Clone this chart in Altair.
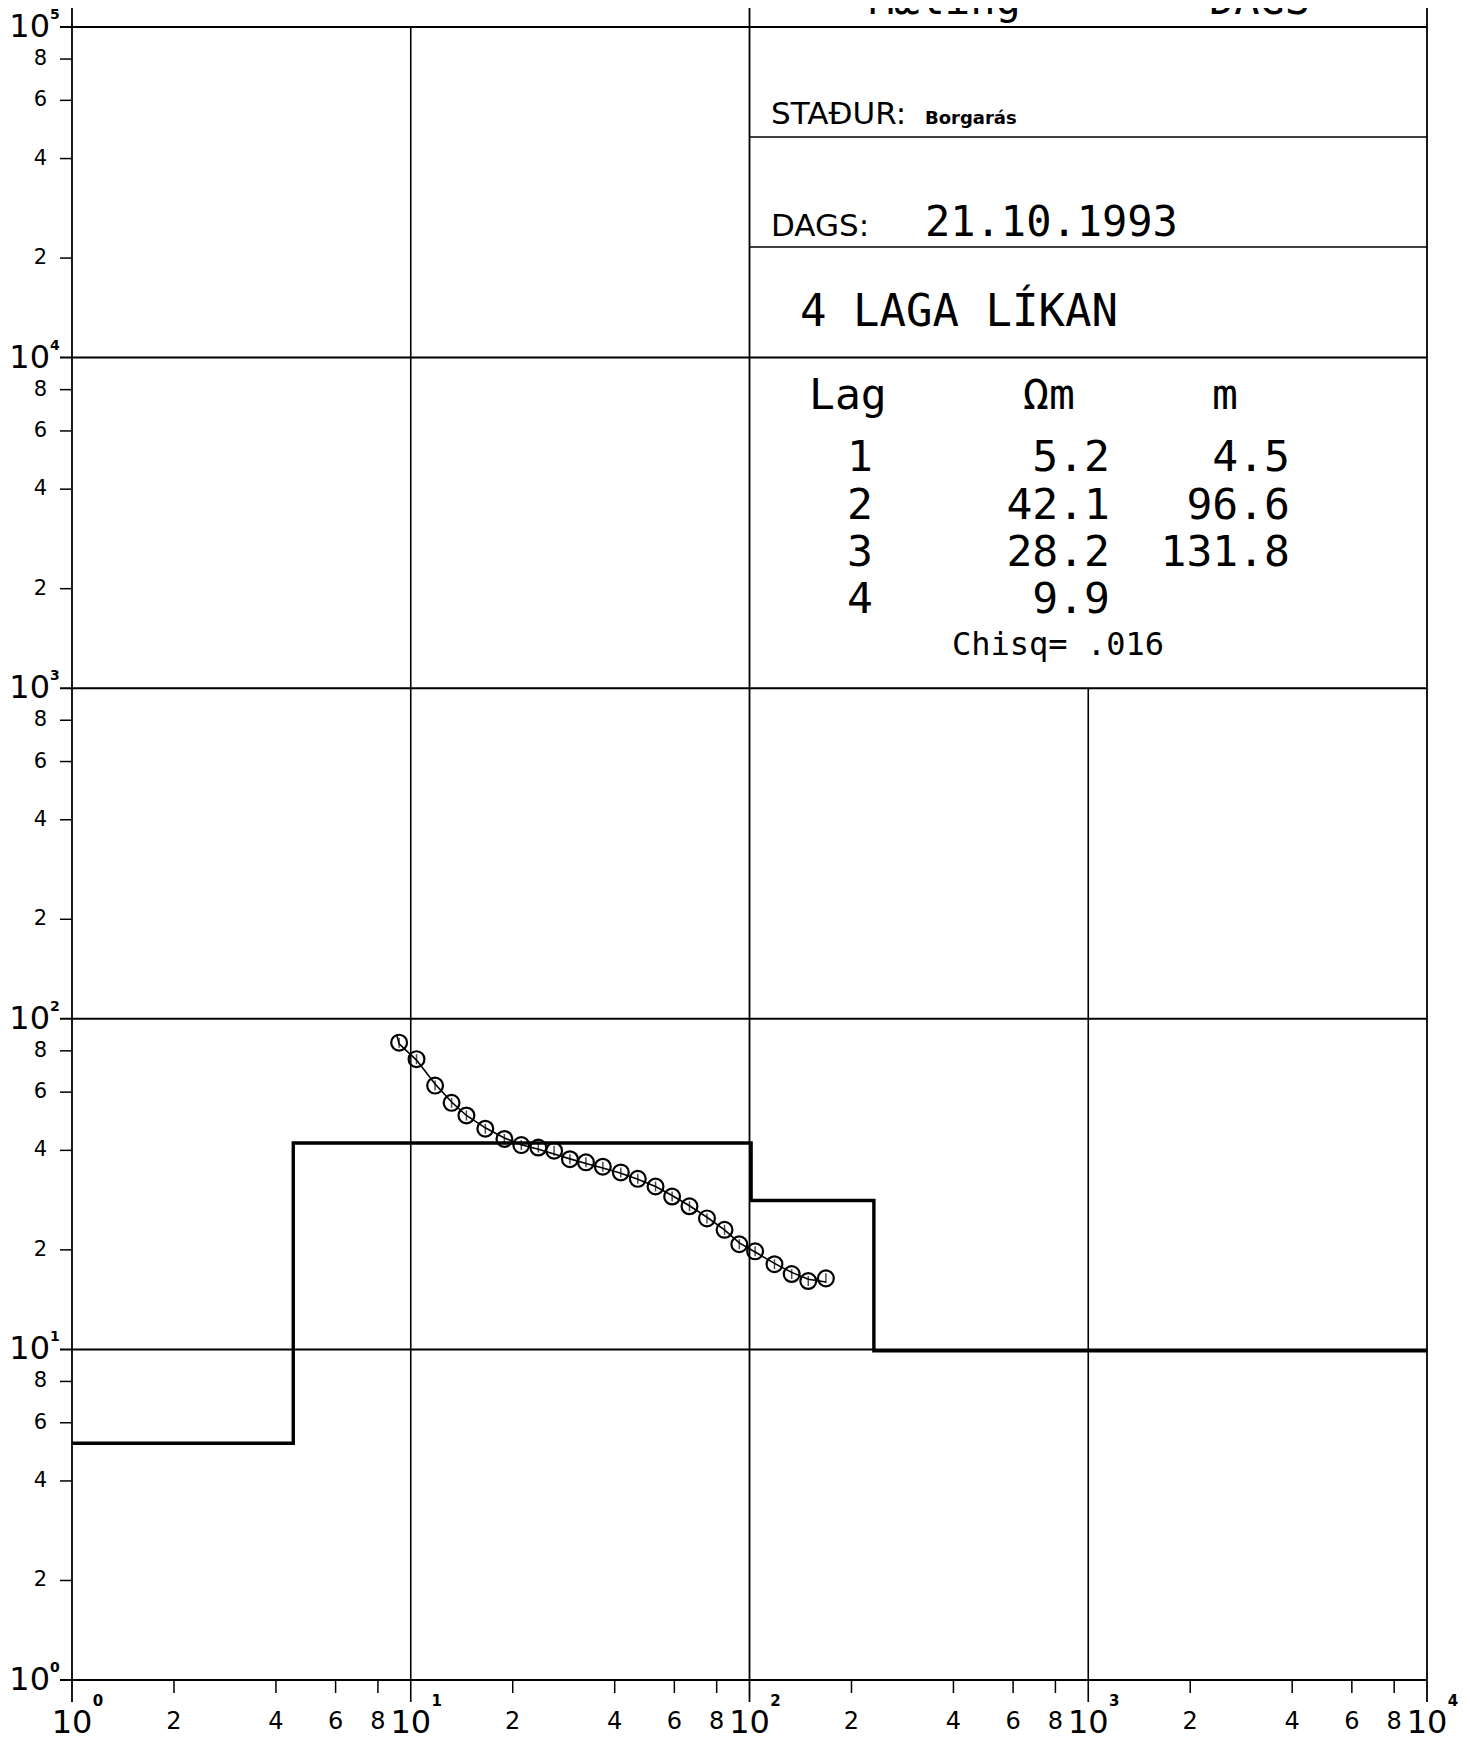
import altair as alt
import pandas as pd

# ---------------- data ----------------
LAG = [1, 2, 3, 4]
RHO = [5.2, 42.1, 28.2, 9.9]          # Ohm-m
THK = [4.5, 96.6, 131.8]              # m (last layer is half-space)
CHISQ = ".016"
STADUR = "Borgarás"
DAGS = "21.10.1993"

MEAS_X = [9.24, 10.4, 11.8, 13.2, 14.6, 16.6, 18.9, 21.2, 23.8, 26.5, 29.5, 32.9, 36.9,
          41.7, 46.8, 52.8, 59.1, 66.5, 74.9, 84.4, 93.3, 103.9, 118.5, 133.2, 149.1, 168.1]
MEAS_Y = [84.7, 75.5, 62.8, 55.7, 51.0, 46.5, 43.3, 41.5, 40.8, 39.9, 37.6, 36.8, 35.7,
          34.3, 32.8, 31.1, 29.0, 27.1, 24.9, 23.0, 20.8, 19.8, 18.1, 16.9, 16.1, 16.4]

FIT_X = [9.08, 9.24, 10.4, 11.8, 13.2, 14.6, 16.6, 18.9, 21.2, 23.8, 26.5, 29.5, 32.9, 36.9,
         41.7, 46.8, 52.8, 59.1, 66.5, 74.9, 84.4, 93.3, 103.9, 118.5, 133.2, 149.1, 168.1]
FIT_Y = [89.7, 84.0, 75.0, 63.5, 56.0, 51.0, 46.8, 43.6, 41.6, 40.3, 39.0, 37.7, 36.5, 35.4,
         34.1, 32.7, 31.1, 29.2, 27.2, 25.1, 23.0, 21.0, 19.7, 18.2, 17.1, 16.3, 16.0]

X_DEC = [1, 10, 100, 1000, 10000]
Y_DEC = [1, 10, 100, 1000, 10000, 100000]
MINOR = [2, 4, 6, 8]

# ---------------- layout ----------------
W, H = 1355, 1653
xs = alt.Scale(type="log", domain=[1, 10000])
ys = alt.Scale(type="log", domain=[1, 100000])
SANS = "DejaVu Sans"
MONO = "DejaVu Sans Mono"
one = pd.DataFrame({"a": [0]})


def X(f="x"):
    return alt.X(f"{f}:Q", scale=xs, axis=None)


def Y(f="y"):
    return alt.Y(f"{f}:Q", scale=ys, axis=None)


def txt(s, x, y, size, font=SANS, align="left", weight="normal"):
    return alt.Chart(one).mark_text(
        font=font, fontSize=size, align=align, baseline="alphabetic",
        fontWeight=weight, color="black"
    ).encode(x=alt.value(x), y=alt.value(y), text=alt.value(s))


layers = []

# horizontal decade lines
layers.append(alt.Chart(pd.DataFrame({"y": Y_DEC})).mark_rule(color="black", strokeWidth=2).encode(
    y=Y(), x=alt.value(-12), x2=alt.value(W)))

# vertical lines
full_v = pd.DataFrame({"x": [1, 100, 10000]})
layers.append(alt.Chart(full_v).mark_rule(color="black", strokeWidth=1.8).encode(
    x=X(), y=alt.value(-19), y2=alt.value(H + 22)))
layers.append(alt.Chart(pd.DataFrame({"x": [10]})).mark_rule(color="black", strokeWidth=1.6).encode(
    x=X(), y=alt.value(0), y2=alt.value(H + 22)))
layers.append(alt.Chart(pd.DataFrame({"x": [1000], "y": [1000]})).mark_rule(color="black", strokeWidth=1.6).encode(
    x=X(), y=Y(), y2=alt.value(H + 22)))

# box dividers in the info panel
layers.append(alt.Chart(pd.DataFrame({"x": [100], "x2": [10000]})).mark_rule(
    color="black", strokeWidth=1.6).encode(x=X(), x2="x2:Q", y=alt.value(110)))
layers.append(alt.Chart(pd.DataFrame({"x": [100], "x2": [10000]})).mark_rule(
    color="black", strokeWidth=1.6).encode(x=X(), x2="x2:Q", y=alt.value(220)))

# minor ticks
xm = pd.DataFrame({"x": [m * d for d in X_DEC[:-1] for m in MINOR],
                   "lab": [str(m) for d in X_DEC[:-1] for m in MINOR]})
ym = pd.DataFrame({"y": [m * d for d in Y_DEC[:-1] for m in MINOR],
                   "lab": [str(m) for d in Y_DEC[:-1] for m in MINOR]})
layers.append(alt.Chart(xm).mark_rule(color="black", strokeWidth=1.5).encode(
    x=X(), y=alt.value(H), y2=alt.value(H + 13)))
layers.append(alt.Chart(ym).mark_rule(color="black", strokeWidth=1.5).encode(
    y=Y(), x=alt.value(-12), x2=alt.value(0)))

# tick labels
layers.append(alt.Chart(xm).mark_text(font=SANS, fontSize=24, baseline="middle", align="center").encode(
    x=X(), y=alt.value(H + 42), text="lab:N"))
layers.append(alt.Chart(ym).mark_text(font=SANS, fontSize=21, baseline="middle", align="right").encode(
    y=Y(), x=alt.value(-25), text="lab:N"))

xd = pd.DataFrame({"x": X_DEC, "e": [str(i) for i in range(len(X_DEC))]})
yd = pd.DataFrame({"y": Y_DEC, "e": [str(i) for i in range(len(Y_DEC))]})
layers.append(alt.Chart(xd).mark_text(font=SANS, fontSize=32, baseline="middle", align="center").encode(
    x=X(), y=alt.value(H + 43), text=alt.value("10")))
layers.append(alt.Chart(xd).mark_text(font=SANS, fontSize=15, fontWeight="bold", baseline="middle",
                                      align="center", dx=26).encode(
    x=X(), y=alt.value(H + 21), text="e:N"))
layers.append(alt.Chart(yd).mark_text(font=SANS, fontSize=32, baseline="middle", align="right").encode(
    y=Y(), x=alt.value(-22), text=alt.value("10")))
layers.append(alt.Chart(yd).mark_text(font=SANS, fontSize=14, fontWeight="bold", baseline="middle",
                                      align="left", dy=-12).encode(
    y=Y(), x=alt.value(-22), text="e:N"))

# layered model (step line)
bounds = []
acc = 0
for t in THK:
    acc += t
    bounds.append(round(acc, 1))
sx, sy = [1], [RHO[0]]
for i, b in enumerate(bounds):
    sx += [b, b]
    sy += [RHO[i], RHO[i + 1]]
sx.append(10000)
sy.append(RHO[-1])
step = pd.DataFrame({"x": sx, "y": sy, "o": list(range(len(sx)))})
layers.append(alt.Chart(step).mark_line(color="black", strokeWidth=3.4, strokeJoin="miter").encode(
    x=X(), y=Y(), order="o:Q"))

# fitted curve
fit = pd.DataFrame({"x": FIT_X, "y": FIT_Y, "o": list(range(len(FIT_X)))})
layers.append(alt.Chart(fit).mark_line(color="black", strokeWidth=1.6).encode(
    x=X(), y=Y(), order="o:Q"))

# measured points
meas = pd.DataFrame({"x": MEAS_X, "y": MEAS_Y})
layers.append(alt.Chart(meas).mark_point(shape="circle", filled=False, color="black",
                                         size=250, strokeWidth=2.2, opacity=1).encode(x=X(), y=Y()))
layers.append(alt.Chart(meas).mark_tick(orient="vertical", color="black", size=10, thickness=1.5).encode(
    x=X(), y=Y()))

# header texts (cut by page top, as in the original sheet)
layers.append(txt("Mæling", 797, -13, 42, MONO))
layers.append(txt("DAGS", 1137, -13, 42, MONO))

# info panel
layers.append(txt("STAÐUR:", 699, 97, 31))
layers.append(txt(STADUR, 853, 97, 18, weight="bold"))
layers.append(txt("DAGS:", 699, 209, 31))
layers.append(txt(DAGS, 853, 209, 42, MONO))
layers.append(txt(f"{len(LAG)} LAGA LÍKAN", 728, 299, 44, MONO))
layers.append(txt("Lag", 737, 382, 43, MONO))
layers.append(txt("Ωm", 951, 382, 43, MONO))
layers.append(txt("m", 1140, 382, 43, MONO))
row_y = [444, 492, 539, 586]
for i, lag in enumerate(LAG):
    layers.append(txt(str(lag), 788, row_y[i], 43, MONO, align="center"))
    layers.append(txt(f"{RHO[i]:.1f}", 1038, row_y[i], 43, MONO, align="right"))
    if i < len(THK):
        layers.append(txt(f"{THK[i]:.1f}", 1218, row_y[i], 43, MONO, align="right"))
layers.append(txt(f"Chisq= {CHISQ}", 880, 628, 32, MONO))

chart = alt.layer(*layers).properties(
    width=W, height=H,
    padding={"left": 64, "top": 19, "right": 31, "bottom": 60},
    autosize=alt.AutoSizeParams(type="none"),
    background="white",
).configure_view(stroke=None)

chart.save("out.html", embed_options={"renderer": "svg", "actions": False})
